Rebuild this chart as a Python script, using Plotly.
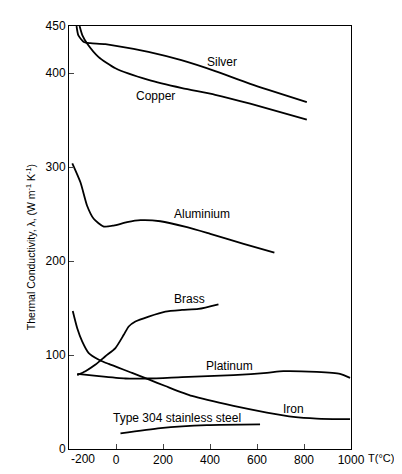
import plotly.graph_objects as go

# temperatures (deg C) and thermal conductivities (W m-1 K-1)
silver_t = [-168, -160, -137, -109, -45, 138, 278, 422, 571, 812]
silver_k = [450, 440, 433, 431.7, 430.7, 422.5, 413.6, 402, 388.4, 369]

copper_t = [-155, -143, -123, -75, -2.5, 138, 281, 422, 571, 812]
copper_k = [450, 440, 431.4, 417.2, 405, 392.6, 383.9, 376.8, 367.3, 350.4]

alu_t = [-186, -151, -123, -95, -52, -10, 47, 104, 189, 302, 401, 543, 674]
alu_k = [303.9, 283.5, 258.8, 244.9, 236.6, 237.7, 241.3, 243.4, 242.3, 236, 228.9, 218.3, 208.8]

brass_t = [-165, -130, -87, -45, -2.5, 33, 54, 82.5, 139, 210, 281, 351, 436]
brass_k = [78.6, 82.8, 89.8, 98.7, 107.4, 121.5, 130.3, 135.6, 140.9, 146.2, 147.9, 149, 153.9]

iron_t = [-184, -165, -144, -116, -73, -31, 68.5, 139, 210, 323, 500, 642, 755, 854, 996]
iron_k = [146.8, 128.5, 114.5, 102, 95, 90.5, 81, 74, 67, 56.4, 45.8, 38.8, 34.2, 32.4, 31.7]

plat_t = [-165, -73, 40, 139, 281, 500, 642, 712, 854, 953, 996]
plat_k = [80, 77.5, 75, 75, 76.5, 78.6, 81, 82.8, 82, 80, 75.7]

steel_t = [19, 189, 387, 613]
steel_k = [16.6, 22.2, 25.4, 26.2]

labels = ["Silver", "Copper", "Aluminium", "Brass", "Platinum", "Iron", "Type 304 stainless steel"]
label_t = [452, 167, 366, 312, 483, 755, 260]
label_k = [411.6, 375.7, 250, 159.5, 88, 42.3, 32.7]

x_ticks = [0, 200, 400, 600, 800, 1000]
y_ticks = [0, 100, 200, 300, 400, 450]

fig = go.Figure()
for t, k in [(silver_t, silver_k), (copper_t, copper_k), (alu_t, alu_k), (brass_t, brass_k),
             (iron_t, iron_k), (plat_t, plat_k), (steel_t, steel_k)]:
    fig.add_trace(go.Scatter(x=t, y=k, mode="lines",
                             line=dict(color="black", width=1.8, shape="spline", smoothing=0.6),
                             showlegend=False, hoverinfo="skip"))

font = dict(family="Liberation Sans, Arial, sans-serif", size=12, color="black")

for txt, t, k in zip(labels, label_t, label_k):
    fig.add_annotation(x=t, y=k, text=txt, showarrow=False, font=font)

fig.add_annotation(x=-200, y=0, text="-200", showarrow=False, font=font,
                   xanchor="left", yanchor="top", yshift=-1)
fig.add_annotation(x=1000, y=0, text="T(\u00b0C)", showarrow=False,
                   font=dict(family="Liberation Sans, Arial, sans-serif", size=11, color="black"),
                   xanchor="left", yanchor="top", xshift=15, yshift=-1)
fig.add_annotation(xref="paper", yref="paper", x=-0.167, y=0.478, textangle=-90,
                   text="Thermal Conductivity, \u03bb, (W m<sup>-1</sup> K<sup>-1</sup>)",
                   showarrow=False, font=dict(family="Liberation Sans, Arial, sans-serif", size=10.5, color="black"))

fig.update_xaxes(range=[-200, 1000], tickvals=x_ticks, ticks="inside", ticklen=5,
                 showline=True, linecolor="black", linewidth=1, mirror=True, automargin=False,
                 showgrid=False, zeroline=False, tickfont=font)
fig.update_yaxes(range=[0, 450], tickvals=y_ticks, ticks="inside", ticklen=5,
                 showline=True, linecolor="black", linewidth=1, mirror=True, automargin=False,
                 showgrid=False, zeroline=False, tickfont=font)
# page body has an 8px margin on every side; keep the figure inside the window
fig.update_layout(width=394, height=456, plot_bgcolor="white", paper_bgcolor="white",
                  margin=dict(l=61, r=51, t=18, b=15))

fig.write_html("out.html")
